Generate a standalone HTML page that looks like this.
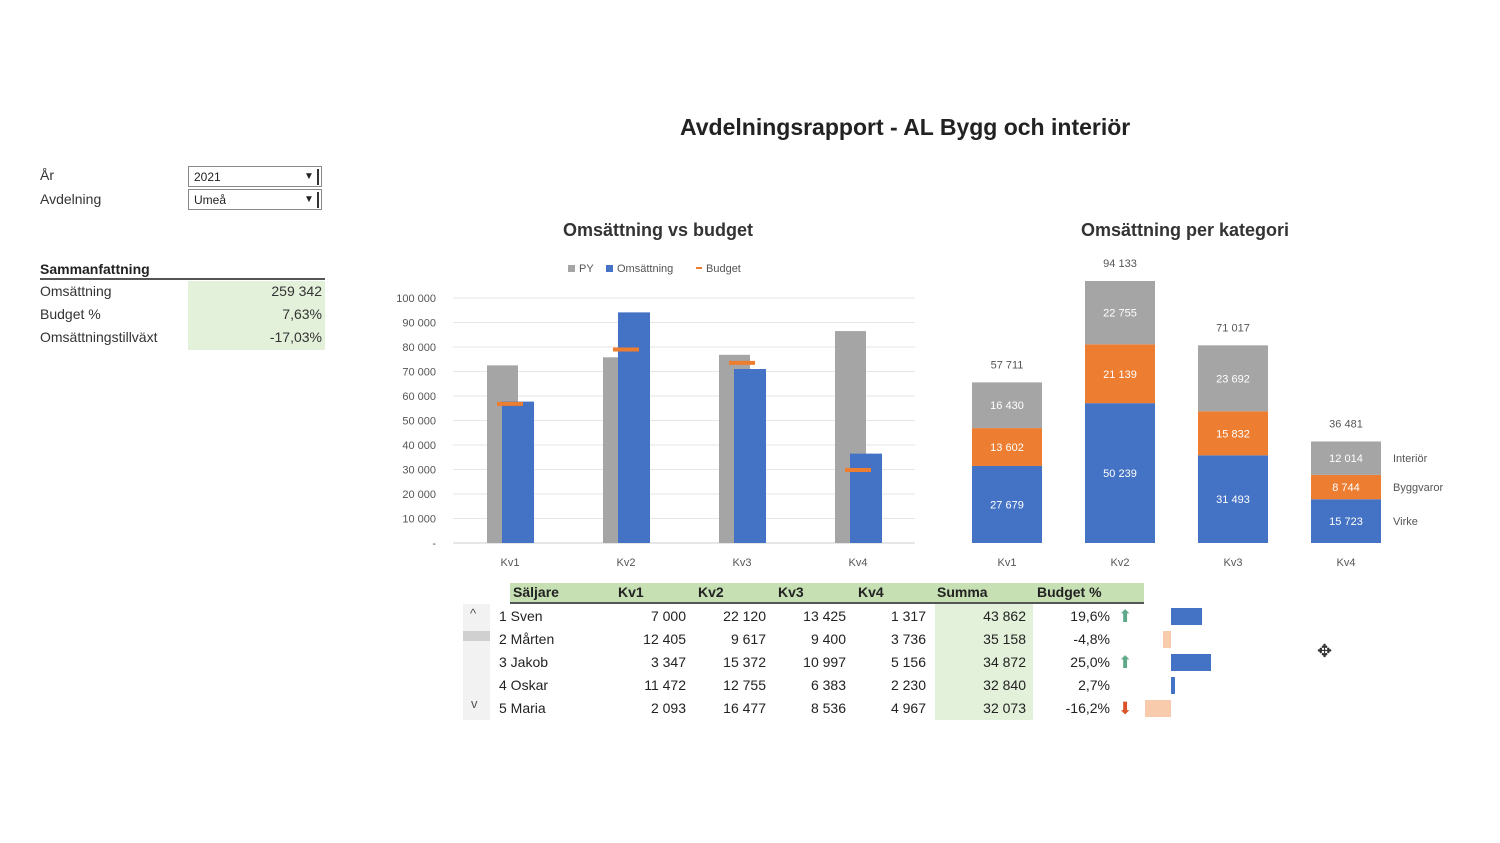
<!DOCTYPE html>
<html><head><meta charset="utf-8">
<style>
body{margin:0;width:1500px;height:843px;background:#fff;font-family:"Liberation Sans",sans-serif;color:#222;position:relative;overflow:hidden}
.abs{position:absolute}
.lbl{font-size:14px;color:#333}
.combo{position:absolute;left:188px;width:134px;height:21px;border:1px solid #888;font-size:12px;line-height:21px;box-sizing:border-box;padding-left:5px;background:#fff}
.combo .arr{position:absolute;right:2px;top:2px;width:16px;height:16px;font-size:10px;line-height:16px;text-align:center;border-right:2px solid #333}
.row{position:absolute;font-size:14px;height:23px;line-height:23px}
table{border-collapse:collapse}
</style></head><body>
<div class="abs" style="left:680px;top:114px;font-size:23px;font-weight:bold;color:#222">Avdelningsrapport - AL Bygg och interiör</div>

<div class="abs lbl" style="left:40px;top:167px">År</div>
<div class="abs lbl" style="left:40px;top:191px">Avdelning</div>
<div class="combo" style="top:166px">2021<span class="arr">▼</span></div>
<div class="combo" style="top:189px">Umeå<span class="arr">▼</span></div>

<div class="abs" style="left:40px;top:261px;font-size:14px;font-weight:bold;width:285px;border-bottom:2px solid #555;padding-bottom:1px">Sammanfattning</div>
<div class="abs" style="left:188px;top:281px;width:137px;height:69px;background:#e3f0da"></div>
<div class="abs lbl" style="left:40px;top:283px">Omsättning</div>
<div class="abs lbl" style="left:40px;top:306px">Budget %</div>
<div class="abs lbl" style="left:40px;top:329px">Omsättningstillväxt</div>
<div class="abs lbl" style="left:188px;width:134px;text-align:right;top:283px">259 342</div>
<div class="abs lbl" style="left:188px;width:134px;text-align:right;top:306px">7,63%</div>
<div class="abs lbl" style="left:188px;width:134px;text-align:right;top:329px">-17,03%</div>

<svg class="abs" style="left:0;top:0" width="1500" height="843">
<text x="658" y="236" text-anchor="middle" font-size="18" font-weight="bold" fill="#333">Omsättning vs budget</text>
<text x="1185" y="236" text-anchor="middle" font-size="18" font-weight="bold" fill="#333">Omsättning per kategori</text>
<g font-size="11" fill="#555">
<rect x="568" y="265" width="7" height="7" fill="#a5a5a5"/><text x="579" y="272">PY</text>
<rect x="606" y="265" width="7" height="7" fill="#4472c4"/><text x="617" y="272">Omsättning</text>
<line x1="696" y1="268" x2="702" y2="268" stroke="#ed7d31" stroke-width="2"/><text x="706" y="272">Budget</text>
</g>
<g id="c1"></g><g id="c2"></g>
</svg>

<div class="abs" style="left:510px;top:583px;width:634px;height:19px;background:#c6e0b4;border-bottom:2px solid #555"></div>
<div class="abs" style="left:935px;top:604px;width:98px;height:116px;background:#e3f0da"></div>
<div class="abs" style="left:463px;top:604px;width:27px;height:116px;background:#f2f2f2"></div>
<div class="abs" style="left:463px;top:631px;width:27px;height:10px;background:#d0d0d0"></div>
<div class="abs" style="left:470px;top:606px;font-size:13px;color:#555">^</div>
<div class="abs" style="left:471px;top:696px;font-size:13px;color:#555">v</div>
<div id="tbl"></div>

<div class="abs" style="left:1317px;top:641px;font-size:18px;color:#333">✥</div>

<script>
const quarters=["Kv1","Kv2","Kv3","Kv4"];
const pyValues=[72500,75800,76800,86500];
const revValues=[57711,94133,71017,36481];
const budgetValues=[56800,79000,73500,29800];
const yTicks=[0,10000,20000,30000,40000,50000,60000,70000,80000,90000,100000];
const yTickLabels=["-","10 000","20 000","30 000","40 000","50 000","60 000","70 000","80 000","90 000","100 000"];

const virke=[27679,50239,31493,15723];
const byggvaror=[13602,21139,15832,8744];
const interior=[16430,22755,23692,12014];
const totalLabels=["57 711","94 133","71 017","36 481"];
const fmt=v=>String(v).replace(/\B(?=(\d{3})+(?!\d))/g," ");

const sellers=["1 Sven","2 Mårten","3 Jakob","4 Oskar","5 Maria"];
const kv1=[7000,12405,3347,11472,2093];
const kv2=[22120,9617,15372,12755,16477];
const kv3=[13425,9400,10997,6383,8536];
const kv4=[1317,3736,5156,2230,4967];
const summa=[43862,35158,34872,32840,32073];
const budgetPct=[19.6,-4.8,25.0,2.7,-16.2];

const NS="http://www.w3.org/2000/svg";
function mk(p,t,a){const e=document.createElementNS(NS,t);for(const k in a)e.setAttribute(k,a[k]);p.appendChild(e);return e;}

// Chart 1
const c1=document.getElementById('c1');
const y1=v=>543-v*245/100000;
const x1=i=>510+i*116;
yTicks.forEach((t,i)=>{
  const gl=mk(c1,'line',{x1:453,x2:915,y1:y1(t),y2:y1(t),stroke:i==0?'#ccc':'#e6e6e6','stroke-width':1});
  
  
  const tx=mk(c1,'text',{x:436,y:y1(t)+4,'text-anchor':'end','font-size':11,fill:'#555'});tx.textContent=yTickLabels[i];
  
  
});
quarters.forEach((q,i)=>{
  const c=x1(i);
  const p=mk(c1,'rect',{x:c-23,y:y1(pyValues[i]),width:31,height:543-y1(pyValues[i]),fill:'#a5a5a5'});
  
  
  const r=mk(c1,'rect',{x:c-8,y:y1(revValues[i]),width:32,height:543-y1(revValues[i]),fill:'#4472c4'});
  
  
  const b=mk(c1,'line',{x1:c-13,x2:c+13,y1:y1(budgetValues[i]),y2:y1(budgetValues[i]),stroke:'#ed7d31','stroke-width':4});
  
  
  const t=mk(c1,'text',{x:c,y:566,'text-anchor':'middle','font-size':11,fill:'#555'});t.textContent=q;
  
  
});

// Chart 2
const c2=document.getElementById('c2');
const h2=v=>v*262/94133;
const x2=i=>1007+i*113;
const segCols=['#4472c4','#ed7d31','#a5a5a5'];
const segNames=['Virke','Byggvaror','Interiör'];
quarters.forEach((q,i)=>{
  const c=x2(i);let base=543;
  [virke[i],byggvaror[i],interior[i]].forEach((v,k)=>{
    const h=h2(v);
    const r=mk(c2,'rect',{x:c-35,y:base-h,width:70,height:h,fill:segCols[k]});
    
    
    const t=mk(c2,'text',{x:c,y:base-h/2+4,'text-anchor':'middle','font-size':11,fill:'#fff'});t.textContent=fmt(v);
    
    
    if(i==3){const l=mk(c2,'text',{x:c+47,y:base-h/2+4,'font-size':11,fill:'#555'});l.textContent=segNames[k];
      
      }
    base-=h;
  });
  const tt=mk(c2,'text',{x:c,y:base-14,'text-anchor':'middle','font-size':11,fill:'#555'});tt.textContent=totalLabels[i];
  
  
  const t=mk(c2,'text',{x:c,y:566,'text-anchor':'middle','font-size':11,fill:'#555'});t.textContent=q;
  
  
});

// Table
const tbl=document.getElementById('tbl');
function cell(txt,left,width,top,align,bold,name){
  const d=document.createElement('div');d.className='row';
  d.style.left=left+'px';d.style.width=width+'px';d.style.top=top+'px';d.style.textAlign=align;
  if(bold)d.style.fontWeight='bold';d.textContent=txt;
  
  
  tbl.appendChild(d);
}
const heads=[["Säljare",513],["Kv1",618],["Kv2",698],["Kv3",778],["Kv4",858],["Summa",937],["Budget %",1037]];
heads.forEach(h=>cell(h[0],h[1],90,581,'left',true,'table-header'));
sellers.forEach((s,i)=>{
  const top=605+i*23;
  cell(s,499,120,top,'left',false,'seller-name');
  cell(fmt(kv1[i]),600,86,top,'right',false,'kv1-cell');
  cell(fmt(kv2[i]),680,86,top,'right',false,'kv2-cell');
  cell(fmt(kv3[i]),760,86,top,'right',false,'kv3-cell');
  cell(fmt(kv4[i]),840,86,top,'right',false,'kv4-cell');
  cell(fmt(summa[i]),940,86,top,'right',false,'summa-cell');
  cell(budgetPct[i].toFixed(1).replace('.',',')+'%',1030,80,top,'right',false,'budget-pct-cell');
  if(budgetPct[i]>=10||budgetPct[i]<=-10){
    const a=document.createElement('div');a.className='row';
    a.style.left='1118px';a.style.top=top+'px';a.style.fontSize='17px';
    a.style.color=budgetPct[i]>0?'#5fa88a':'#d9532b';
    a.textContent=budgetPct[i]>0?'⬆':'⬇';
    
    
    tbl.appendChild(a);
  }
  const w=Math.abs(budgetPct[i])*1.6;
  const b=document.createElement('div');b.className='abs';
  b.style.top=(top+3)+'px';b.style.height='17px';b.style.width=w+'px';
  b.style.left=(budgetPct[i]>=0?1171:1171-w)+'px';
  b.style.background=budgetPct[i]>=0?'#4472c4':'#f8cbad';
  
  
  tbl.appendChild(b);
});
</script>
</body></html>
